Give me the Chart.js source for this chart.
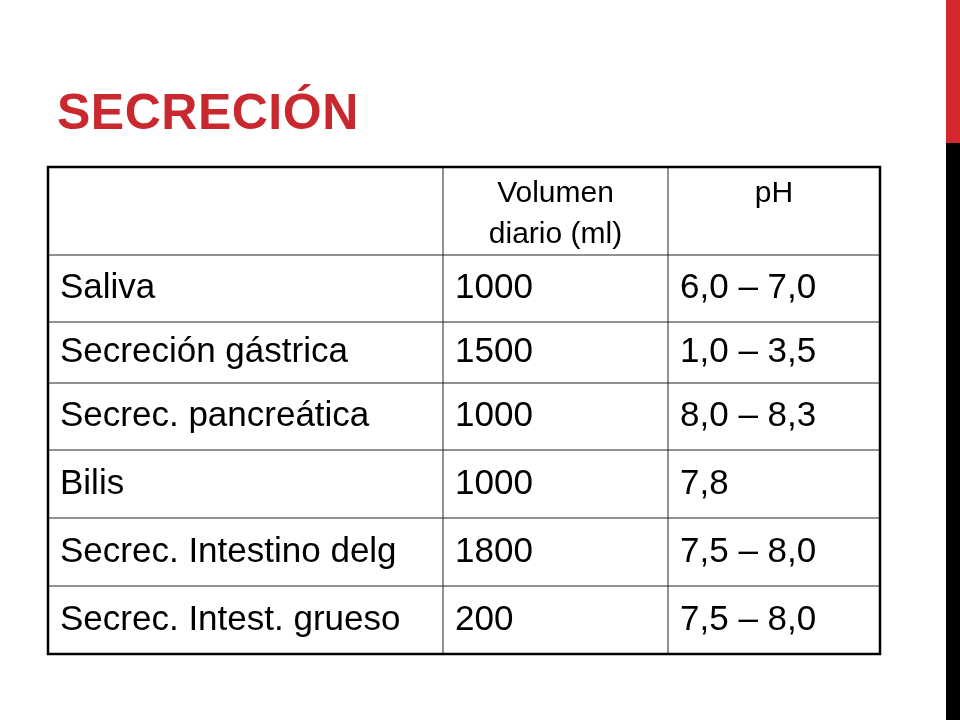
<!DOCTYPE html>
<html><head><meta charset="utf-8">
<script src="https://cdn.jsdelivr.net/npm/chart.js@4"></script>
<style>
body{margin:0;width:960px;height:720px;background:#fff;position:relative;overflow:hidden;font-family:"Liberation Sans",Arial,sans-serif}
#title{position:absolute;left:57px;top:87px;font-size:50px;line-height:1;font-weight:bold;color:#c8282e;letter-spacing:0.5px}
#barRed{position:absolute;left:946px;top:0;width:14px;height:143px;background:#d2282e}
#barBlack{position:absolute;left:946px;top:143px;width:14px;height:577px;background:#000}
#wrap{position:absolute;left:46px;top:165px;width:836px;height:491px}
</style></head><body>
<div id="title">SECRECIÓN</div>
<div id="barRed"></div><div id="barBlack"></div>
<div id="wrap"><canvas id="c"></canvas></div>
<script>
// table content
let headers = ["", "Volumen\ndiario (ml)", "pH"];
let secreciones = ["Saliva", "Secreción gástrica", "Secrec. pancreática", "Bilis", "Secrec. Intestino delg", "Secrec. Intest. grueso"];
let volumen = ["1000", "1500", "1000", "1000", "1800", "200"];
let ph = ["6,0 – 7,0", "1,0 – 3,5", "8,0 – 8,3", "7,8", "7,5 – 8,0", "7,5 – 8,0"];

// column and row edges (table units)
let colEdges = [0, 395, 620, 832];
let rowEdges = [0, 88, 155, 216, 283, 351, 419, 487];

let tablePlugin = {
    id: "table",
    afterDraw(chart) {
        let ctx = chart.ctx;
        let xs = chart.scales.x, ys = chart.scales.y;
        let X = (v) => xs.getPixelForValue(v);
        let Y = (v) => ys.getPixelForValue(v);
        ctx.save();
        ctx.strokeStyle = "#222";
        ctx.lineWidth = 1;
        for (let i = 1; i < colEdges.length - 1; i++) {
            ctx.beginPath(); ctx.moveTo(X(colEdges[i]), Y(0)); ctx.lineTo(X(colEdges[i]), Y(487)); ctx.stroke();
        }
        for (let i = 1; i < rowEdges.length - 1; i++) {
            ctx.beginPath(); ctx.moveTo(X(0), Y(rowEdges[i])); ctx.lineTo(X(832), Y(rowEdges[i])); ctx.stroke();
        }
        ctx.lineWidth = 2.5;
        ctx.strokeStyle = "#000";
        ctx.strokeRect(X(0), Y(0), X(832) - X(0), Y(487) - Y(0));

        ctx.fillStyle = "#000";
        ctx.textBaseline = "middle";
        // header
        ctx.font = '30px "Liberation Sans", Arial';
        ctx.textAlign = "center";
        for (let c = 1; c < 3; c++) {
            let lines = headers[c].split("\n");
            let cx = (X(colEdges[c]) + X(colEdges[c + 1])) / 2;
            lines.forEach((l, k) => ctx.fillText(l, cx, Y(27 + k * 41)));
        }
        // body
        ctx.font = '35px "Liberation Sans", Arial';
        ctx.textAlign = "left";
        let cols = [secreciones, volumen, ph];
        for (let r = 0; r < secreciones.length; r++) {
            let cy = (Y(rowEdges[r + 1]) + Y(rowEdges[r + 2])) / 2;
            for (let c = 0; c < 3; c++) {
                ctx.fillText(cols[c][r], X(colEdges[c]) + 12, cy);
            }
        }
        ctx.restore();
    }
};

new Chart(document.getElementById("c"), {
    type: "scatter",
    data: { datasets: [{ data: [] }] },
    options: {
        responsive: true,
        maintainAspectRatio: false,
        animation: false,
        layout: { padding: 2 },
        plugins: { legend: { display: false }, tooltip: { enabled: false } },
        scales: {
            x: { type: "linear", min: 0, max: 832, display: false },
            y: { type: "linear", min: 0, max: 487, reverse: true, display: false }
        }
    },
    plugins: [tablePlugin]
});
</script>
</body></html>
